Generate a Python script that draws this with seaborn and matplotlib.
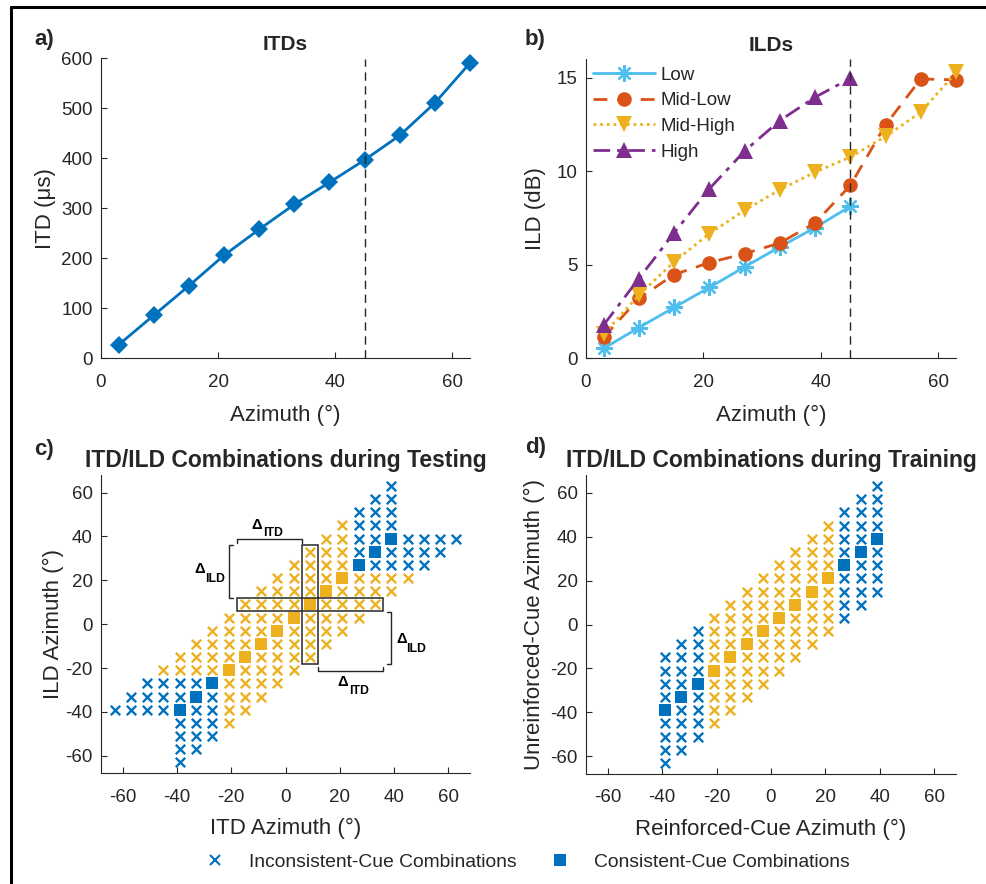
import numpy as np
import pandas as pd
import seaborn as sns
import matplotlib
import matplotlib.pyplot as plt
from matplotlib.lines import Line2D
from matplotlib.patches import Rectangle

# ---------------- data ----------------
azimuth = [3, 9, 15, 21, 27, 33, 39, 45, 51, 57, 63]
itd_us = [27, 86, 145, 206, 258, 308, 352, 397, 446, 511, 591]

ild_az_short = [3, 9, 15, 21, 27, 33, 39, 45]
ild_low = [0.53, 1.64, 2.72, 3.79, 4.89, 5.96, 6.99, 8.13]
ild_midlow = [1.12, 3.2, 4.48, 5.12, 5.6, 6.17, 7.24, 9.25, 12.49, 14.95, 14.9]
ild_midhigh = [1.3, 3.38, 5.16, 6.67, 7.92, 9.02, 9.96, 10.77, 11.87, 13.17, 15.3]
ild_high = [1.78, 4.27, 6.71, 9.07, 11.09, 12.72, 13.97, 14.98]
ild_labels = ["Low", "Mid-Low", "Mid-High", "High"]

consistent_az = [-39, -33, -27, -21, -15, -9, -3, 3, 9, 15, 21, 27, 33, 39]
outer_az = [-39, -33, -27, 27, 33, 39]
cue_offsets = [-24, -18, -12, -6, 6, 12, 18, 24]

legend_labels = ["Inconsistent-Cue Combinations", "Consistent-Cue Combinations"]

# ---------------- style ----------------
BLUE = "#0072BD"
ORANGE = "#D95319"
YELLOW = "#EDB120"
PURPLE = "#7E2F8E"
CYAN = "#4DBEEE"
AX = "#262626"

sns.set_style("ticks")
plt.rcParams["font.family"] = ["Liberation Sans", "DejaVu Sans"]
plt.rcParams["axes.unicode_minus"] = False
plt.rcParams["axes.edgecolor"] = AX
plt.rcParams["axes.linewidth"] = 0.8

TICK = 13.5
LAB = 16

fig = plt.figure(figsize=(9.87, 8.84), dpi=100)
W, H = 987.0, 884.0


def axes_px(l, t, r, b):
    return fig.add_axes([l / W, 1 - b / H, (r - l) / W, (b - t) / H])


ax_a = axes_px(101, 58.5, 470, 358.3)
ax_b = axes_px(586, 59.3, 956, 358.3)
ax_c = axes_px(101, 475, 470, 773.3)
ax_d = axes_px(586, 475, 956, 774)


def style(ax):
    sns.despine(ax=ax)
    ax.tick_params(direction="in", length=4, width=0.8, colors=AX,
                   labelsize=TICK)
    ax.tick_params(axis="x", pad=11)
    ax.tick_params(axis="y", pad=6)
    for s in ("left", "bottom"):
        ax.spines[s].set_color(AX)


# ---------------- panel a ----------------
sns.lineplot(x=azimuth, y=itd_us, ax=ax_a, color=BLUE, marker="D",
             markersize=9, linewidth=2, markeredgewidth=0, clip_on=False)
ax_a.axvline(45, color=AX, linestyle=(0, (6, 4)), linewidth=1)
ax_a.set_xlim(0, 63)
ax_a.set_ylim(0, 600)
ax_a.set_xticks([0, 20, 40, 60])
ax_a.set_yticks(range(0, 601, 100))
ax_a.set_xlabel("Azimuth (°)", fontsize=LAB, color=AX, labelpad=10)
ax_a.set_ylabel("ITD (μs)", fontsize=LAB, color=AX, labelpad=4)
ax_a.set_title("ITDs", fontsize=15, fontweight="bold", pad=6)
style(ax_a)

# ---------------- panel b ----------------
series = [
    (ild_az_short, ild_low, CYAN, "-", None),
    (azimuth, ild_midlow, ORANGE, (0, (5, 3.5)), "o"),
    (azimuth, ild_midhigh, YELLOW, (0, (1, 1.4)), "v"),
    (ild_az_short, ild_high, PURPLE, (0, (6, 2.5, 1.5, 2.5)), "^"),
]
handles_b = []
for (xs, ys, col, ls, mk), lab in zip(series, ild_labels):
    if mk is None:
        sns.lineplot(x=xs, y=ys, ax=ax_b, color=col, linewidth=2,
                     linestyle=ls, clip_on=False)
        ax_b.plot(xs, ys, linestyle="none", marker=(8, 2, 0), markersize=12,
                  markeredgewidth=1.6, color=col, clip_on=False)
        handles_b.append(Line2D([], [], color=col, linewidth=2, linestyle=ls,
                                marker=(8, 2, 0), markersize=12, markeredgewidth=1.6))
    else:
        ms = 10.5 if mk == "o" else 12
        sns.lineplot(x=xs, y=ys, ax=ax_b, color=col, marker=mk, markersize=ms,
                     markeredgewidth=0, linewidth=2, linestyle=ls, clip_on=False)
        handles_b.append(Line2D([], [], color=col, linewidth=2, linestyle=ls,
                                marker=mk, markersize=ms, markeredgewidth=0))
ax_b.axvline(45, color=AX, linestyle=(0, (6, 4)), linewidth=1)
ax_b.set_xlim(0, 63)
ax_b.set_ylim(0, 16)
ax_b.set_xticks([0, 20, 40, 60])
ax_b.set_yticks([0, 5, 10, 15])
ax_b.set_xlabel("Azimuth (°)", fontsize=LAB, color=AX, labelpad=10)
ax_b.set_ylabel("ILD (dB)", fontsize=LAB, color=AX, labelpad=8)
ax_b.set_title("ILDs", fontsize=15, fontweight="bold", pad=6)
ax_b.legend(handles_b, ild_labels, loc="upper left", bbox_to_anchor=(0.0, 1.0),
            frameon=False, fontsize=13.5, handlelength=3.3, handletextpad=0.25,
            labelspacing=0.45, borderaxespad=0.3, borderpad=0.1)
style(ax_b)


# ---------------- panels c, d ----------------
def build(both_arms):
    pts = {}
    for p in consistent_az:
        cls = "outer" if p in outer_az else "inner"
        for d in cue_offsets:
            cand = [(p, p + d)]
            if both_arms:
                cand.append((p + d, p))
            for pt in cand:
                if pt not in pts or cls == "inner":
                    pts[pt] = cls
    return pd.DataFrame([(k[0], k[1], v) for k, v in pts.items()],
                        columns=["x", "y", "cls"])


cons_df = pd.DataFrame({"x": consistent_az, "y": consistent_az,
                        "cls": ["outer" if p in outer_az else "inner"
                                for p in consistent_az]})


def draw_combo(ax, df):
    for cls, col in (("outer", BLUE), ("inner", YELLOW)):
        sub = df[df.cls == cls]
        sns.scatterplot(data=sub, x="x", y="y", ax=ax, marker="x", color=col,
                        s=46, linewidth=1.7, zorder=3)
    for cls, col in (("outer", BLUE), ("inner", YELLOW)):
        sub = cons_df[cons_df.cls == cls]
        sns.scatterplot(data=sub, x="x", y="y", ax=ax, marker="s", color=col,
                        s=70, linewidth=0, zorder=4)
    ax.set_xlim(-68, 68)
    ax.set_ylim(-68, 68)
    ax.set_xticks(range(-60, 61, 20))
    ax.set_yticks(range(-60, 61, 20))
    style(ax)


draw_combo(ax_c, build(True))
draw_combo(ax_d, build(False))

ax_c.set_xlabel("ITD Azimuth (°)", fontsize=LAB, color=AX, labelpad=9)
ax_c.set_ylabel("ILD Azimuth (°)", fontsize=LAB, color=AX, labelpad=1)
ax_c.set_title("ITD/ILD Combinations during Testing", fontsize=16.5,
               fontweight="bold", pad=6)
ax_d.set_xlabel("Reinforced-Cue Azimuth (°)", fontsize=LAB, color=AX, labelpad=9)
ax_d.set_ylabel("Unreinforced-Cue Azimuth (°)", fontsize=LAB, color=AX, labelpad=4)
ax_d.set_title("ITD/ILD Combinations during Training", fontsize=16.5,
               fontweight="bold", pad=6)

# cross boxes and brackets in panel c
for (x0, y0, w, h) in [(6, -18, 6, 54), (-18, 5.8, 54, 6)]:
    ax_c.add_patch(Rectangle((x0, y0), w, h, fill=False, edgecolor=AX,
                             linewidth=1.1, zorder=5))
bk = dict(color=AX, linewidth=1.0, zorder=5)
ax_c.plot([-18, -18, 6, 6], [37.2, 38.8, 38.8, 37.2], **bk)
ax_c.plot([-19.3, -21, -21, -19.3], [36, 36, 12, 12], **bk)
ax_c.plot([37.3, 38.9, 38.9, 37.3], [5.7, 5.7, -18.2, -18.2], **bk)
ax_c.plot([12, 12, 36, 36], [-19.5, -21.2, -21.2, -19.5], **bk)

dkw = dict(fontweight="bold", color="black", ha="left", va="baseline", zorder=6)
for (dx, dy, sx, sy, sub) in [(-12.6, 43.6, -8.4, 40.1, "ITD"),
                              (-33.5, 23.2, -29.6, 19.4, "ILD"),
                              (40.7, -8.6, 44.6, -12.5, "ILD"),
                              (19.2, -28.0, 23.3, -31.7, "ITD")]:
    ax_c.text(dx, dy, "Δ", fontsize=10.5, **dkw)
    ax_c.text(sx, sy, sub, fontsize=8.8, **dkw)

# panel letters
for (x, y, t) in [(34, 40, "a)"), (525, 40, "b)"), (34, 450, "c)"), (525, 448, "d)")]:
    fig.text(x / W, 1 - y / H, t, fontsize=16, fontweight="bold",
             ha="left", va="center")

# bottom legend
handles = [Line2D([], [], marker="x", color=BLUE, linestyle="none",
                  markersize=7, markeredgewidth=1.5),
           Line2D([], [], marker="s", color=BLUE, linestyle="none",
                  markersize=8.5, markeredgewidth=0)]
fig.legend(handles, legend_labels, ncol=2, loc="center left",
           bbox_to_anchor=(201 / W, 1 - 862 / H), frameon=False,
           prop={"size": 13.9},
           handlelength=1.5, handletextpad=1.0, columnspacing=1.5,
           borderpad=0, borderaxespad=0)

# figure frame (left and top)
fig.add_artist(Line2D([11 / W, 11 / W], [0, 1 - 7 / H], transform=fig.transFigure,
                      color="black", linewidth=2.2))
fig.add_artist(Line2D([11 / W, 1], [1 - 7 / H, 1 - 7 / H], transform=fig.transFigure,
                      color="black", linewidth=2.2))

fig.savefig("out.png", dpi=100)
